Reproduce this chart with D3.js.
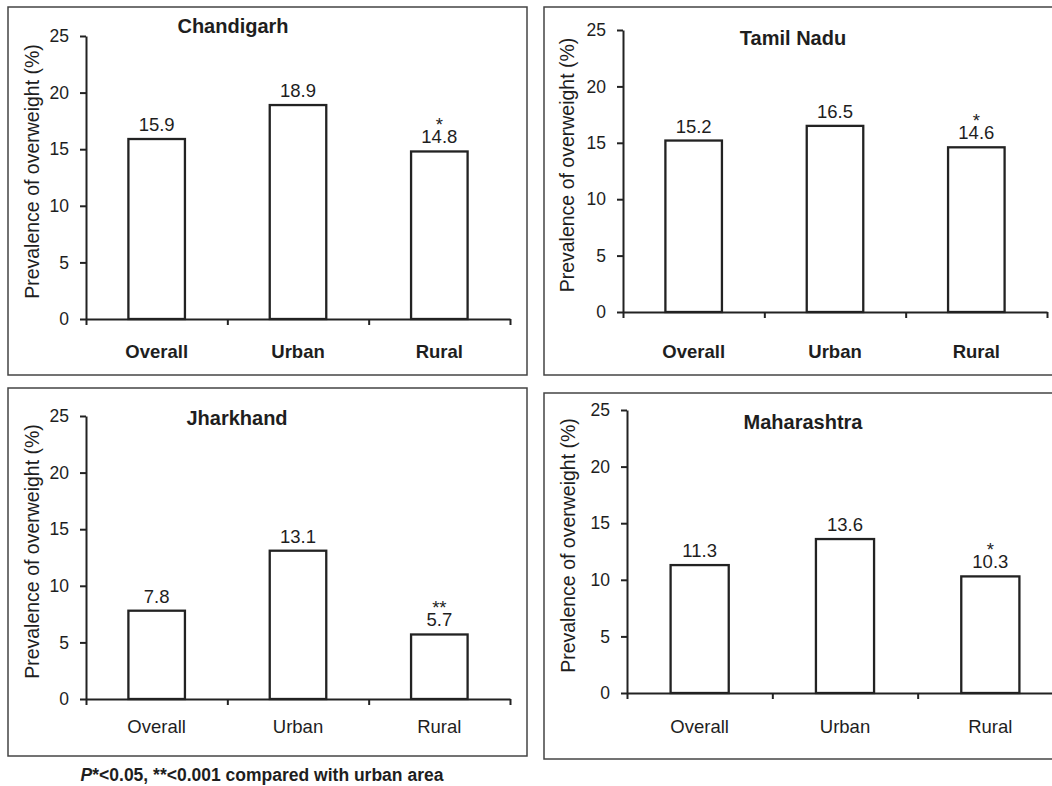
<!DOCTYPE html>
<html>
<head>
<meta charset="utf-8">
<script src="https://cdn.jsdelivr.net/npm/d3@7.9.0/dist/d3.min.js"></script>
<style>
  body { margin: 0; background: #fff; }
  svg { display: block; font-family: "Liberation Sans", Arial, sans-serif; }
  text { fill: #1e1e1e; }
</style>
</head>
<body>
<svg id="chart" width="1052" height="786"></svg>
<script>
// data
const categories = ['Overall', 'Urban', 'Rural'];
const states = ['Chandigarh', 'Tamil Nadu', 'Jharkhand', 'Maharashtra'];
const chandigarh = [15.9, 18.9, 14.8];
const tamilNadu = [15.2, 16.5, 14.6];
const jharkhand = [7.8, 13.1, 5.7];
const maharashtra = [11.3, 13.6, 10.3];
const significance = [
  ['', '', '*'],
  ['', '', '*'],
  ['', '', '**'],
  ['', '', '*']
];
const yTicks = [0, 5, 10, 15, 20, 25];
const yLabel = 'Prevalence of overweight (%)';
const footnote = 'compared with urban area';

const svg = d3.select('#chart');

// layout of the four boxes (pixels)
const panels = [
  { values: chandigarh, frame: [8, 7, 527, 375], ax: 86, y0: 319, y25: 36, axEnd: 510,
    title: [233, 26], catY: 352, bold: true, labX: 32 },
  { values: tamilNadu, frame: [544, 7, 1060, 375], ax: 623, y0: 312, y25: 30, axEnd: 1047,
    title: [793, 38], catY: 352, bold: true, labX: 567 },
  { values: jharkhand, frame: [8, 388, 527, 756], ax: 86, y0: 699, y25: 416, axEnd: 510,
    title: [237, 418], catY: 727, bold: false, labX: 32 },
  { values: maharashtra, frame: [544, 393, 1060, 759], ax: 627, y0: 693, y25: 410, axEnd: 1063,
    title: [803, 422], catY: 727, bold: false, labX: 568 }
];

panels.forEach((p, i) => {
  const g = svg.append('g');
  const [fx0, fy0, fx1, fy1] = p.frame;

  g.append('rect')
    .attr('x', fx0).attr('y', fy0)
    .attr('width', fx1 - fx0).attr('height', fy1 - fy0)
    .attr('fill', 'none').attr('stroke', '#444').attr('stroke-width', 1.5);

  const y = d3.scaleLinear().domain([0, 25]).range([p.y0, p.y25]);
  const x = d3.scaleBand().domain(categories).range([p.ax, p.axEnd]).padding(0);
  const xb = d3.scaleLinear().domain([0, categories.length]).range([p.ax, p.axEnd]);
  const barW = x.bandwidth() * 0.4;

  // bars
  g.selectAll('rect.bar')
    .data(p.values)
    .join('rect')
    .attr('class', 'bar')
    .attr('x', (d, j) => x(categories[j]) + (x.bandwidth() - barW) / 2)
    .attr('y', d => y(d))
    .attr('width', barW)
    .attr('height', d => y(0) - y(d))
    .attr('fill', '#fff')
    .attr('stroke', '#222')
    .attr('stroke-width', 2.3);

  // value labels, with the star line above in the same text
  const vals = g.selectAll('text.val')
    .data(p.values)
    .join('text')
    .attr('class', 'val')
    .attr('text-anchor', 'middle')
    .style('font-size', '18.5px');
  vals.each(function (d, j) {
    const t = d3.select(this);
    const cx = x(categories[j]) + x.bandwidth() / 2;
    const sig = significance[i][j];
    if (sig) {
      t.append('tspan').attr('x', cx).attr('y', y(d) - 8 - 12).text(sig);
    }
    t.append('tspan').attr('x', cx).attr('y', y(d) - 8).text(d.toFixed(1));
  });

  // y axis
  const yAxis = g.append('g')
    .attr('transform', `translate(${p.ax},0)`)
    .call(d3.axisLeft(y).tickValues(yTicks).tickSize(6).tickSizeOuter(0).tickPadding(11));
  yAxis.select('.domain').attr('stroke', '#222').attr('stroke-width', 2);
  yAxis.selectAll('.tick line').attr('stroke', '#222').attr('stroke-width', 2);
  yAxis.selectAll('.tick text')
    .attr('font-family', null).attr('fill', null)
    .style('font-size', '17.5px');

  // x axis, ticks at category boundaries
  const xAxis = g.append('g')
    .attr('transform', `translate(0,${p.y0})`)
    .call(d3.axisBottom(xb).tickValues(d3.range(categories.length + 1))
      .tickFormat('').tickSize(6).tickSizeOuter(0));
  xAxis.select('.domain').attr('stroke', '#222').attr('stroke-width', 2);
  xAxis.selectAll('.tick line').attr('stroke', '#222').attr('stroke-width', 2);

  // category labels
  g.selectAll('text.cat')
    .data(categories)
    .join('text')
    .attr('class', 'cat')
    .attr('x', d => x(d) + x.bandwidth() / 2)
    .attr('y', p.catY)
    .attr('dy', '0.35em')
    .attr('text-anchor', 'middle')
    .style('font-size', '18.5px')
    .style('font-weight', p.bold ? 'bold' : 'normal')
    .text(d => d);

  // title
  g.append('text')
    .attr('x', p.title[0]).attr('y', p.title[1])
    .attr('dy', '0.35em')
    .attr('text-anchor', 'middle')
    .style('font-size', '20px')
    .style('font-weight', 'bold')
    .text(states[i]);

  // y label
  const ly = (p.y0 + p.y25) / 2 - 6;
  g.append('text')
    .attr('transform', `translate(${p.labX},${ly}) rotate(-90)`)
    .attr('dy', '0.35em')
    .attr('text-anchor', 'middle')
    .style('font-size', '19.5px')
    .text(yLabel);
});

// footnote
const fn = svg.append('text')
  .attr('x', 262).attr('y', 775)
  .attr('dy', '0.35em')
  .attr('text-anchor', 'middle')
  .style('font-size', '17.5px')
  .style('font-weight', 'bold');
fn.append('tspan').style('font-style', 'italic').text('P');
fn.append('tspan').text('*<0.05, **<0.001 ' + footnote);
</script>
</body>
</html>
